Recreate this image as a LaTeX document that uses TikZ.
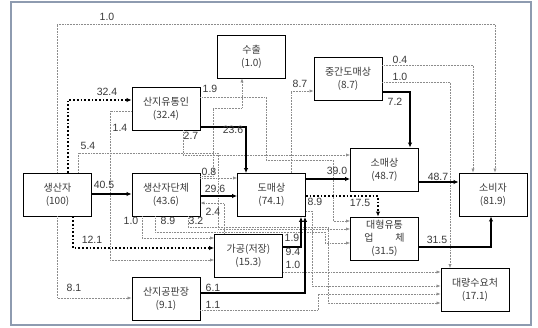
\documentclass[tikz,border=0pt]{standalone}
\usepackage{fontspec}
\setmainfont{Liberation Sans}
\newfontfamily\kfont{Noto Sans CJK KR}
\usetikzlibrary{arrows.meta,positioning,calc}
\definecolor{flowgray}{HTML}{8C8C8C}
\definecolor{textgray}{HTML}{3A3A3A}
\definecolor{framblue}{HTML}{8E9BB0}
\tikzset{
  stage/.style={draw=black, line width=0.9pt, fill=white, align=center, minimum width=68pt, minimum height=43pt, inner sep=0pt, font=\kfont\fontsize{10}{13}\selectfont, text=textgray},
  num/.style={font=\fontsize{10.5}{12}\selectfont, text=textgray, inner sep=1pt},
  minor/.style={draw=flowgray, line width=0.55pt, densely dotted, -{Latex[length=4pt,width=3.2pt]}},
  major/.style={draw=black, line width=1.7pt, -{Latex[length=5pt,width=4.5pt]}},
  majordot/.style={draw=black, line width=1.7pt, dotted, -{Latex[length=5pt,width=4.5pt]}}
}
\begin{document}
\begin{tikzpicture}[x=1pt, y=-1pt]
\useasboundingbox (0,0) rectangle (538,328);
\draw[framblue, line width=1.5pt, fill=white] (11,2) rectangle (531,325);

% stages
\node[stage] (prod) at (57.5,194.5) {생산자\\(100)};
\node[stage] (cwt)  at (166,108.5) {산지유통인\\(32.4)};
\node[stage] (pgrp) at (166,194.5) {생산자단체\\(43.6)};
\node[stage] (pub)  at (166,298.5) {산지공판장\\(9.1)};
\node[stage] (proc) at (248.5,255.5) {가공(저장)\\(15.3)};
\node[stage] (exp)  at (251.5,56.5) {수출\\(1.0)};
\node[stage] (whs)  at (271.5,195) {도매상\\(74.1)};
\node[stage] (mid)  at (348,78.5) {중간도매상\\(8.7)};
\node[stage] (ret)  at (384.5,169.5) {소매상\\(48.7)};
\node[stage] (big)  at (384.5,238.5) {대형유통\\업\hspace{2.2em}체\\(31.5)};
\node[stage] (cons) at (493,194.5) {소비자\\(81.9)};
\node[stage] (bulk) at (475,290) {대량수요처\\(17.1)};

% thin flows
\draw[minor] (prod.north -| 57,0) -- (57,24) -- (495,24) -- (cons.north -| 495,0);
\draw[minor] (prod.north -| 78,0) -- (78,153) -- (218,153) -- (218,229) -- (big.west |- 0,229);
\draw[minor] (prod.south -| 57,0) -- (57,298) -- (pub.west |- 0,298);
\draw[minor] (cwt.west |- 0,111) -- (110,111) -- (110,260) -- (proc.west |- 0,260);
\draw[minor] (cwt.east |- 0,97) -- (266,97) -- (266,160) -- (333,160) -- (333,221) -- (big.west |- 0,221);
\draw[minor] (cwt.south -| 183,0) -- (183,155) -- (ret.west |- 0,155);
\draw[minor] (pgrp.east |- 0,178) -- (whs.west |- 0,178);
\draw[minor] (pgrp.east |- 0,176) -- (213,176) -- (213,108) -- (242,108) -- (exp.south -| 242,0);
\draw[minor] (pgrp.south -| 142,0) -- (142,238) -- (proc.west |- 0,238);
\draw[minor] (pgrp.south -| 155,0) -- (155,232) -- (325,232) -- (325,243) -- (big.west |- 0,243);
\draw[minor] (pgrp.south -| 188,0) -- (188,227) -- (328,227) -- (328,303) -- (bulk.west |- 0,303);
\draw[minor] (proc.north -| 224,0) -- (224,203) -- (pgrp.east |- 0,203);
\draw[minor] (whs.east |- 0,211) -- (312,211) -- (312,286) -- (bulk.west |- 0,286);
\draw[minor] (proc.east |- 0,272) -- (bulk.west |- 0,272);
\draw[minor] (pub.east |- 0,310) -- (318,310) -- (318,294) -- (bulk.west |- 0,294);
\draw[minor] (whs.north -| 291,0) -- (291,91) -- (mid.west |- 0,91);
\draw[minor] (mid.east |- 0,65) -- (473,65) -- (cons.north -| 473,0);
\draw[minor] (mid.east |- 0,82) -- (450,82) -- (bulk.north -| 450,0);

% main flows
\draw[majordot] (prod.north -| 68,0) -- (68,100) -- (cwt.west |- 0,100);
\draw[majordot] (prod.south -| 73,0) -- (73,248) -- (proc.west |- 0,248);
\draw[majordot] (whs.east |- 0,196) -- (378,196) -- (big.north -| 378,0);
\draw[major] (prod.east |- 0,194) -- (pgrp.west |- 0,194);
\draw[major] (pgrp.east |- 0,196) -- (whs.west |- 0,196);
\draw[major] (cwt.east |- 0,127) -- (246,127) -- (whs.north -| 246,0);
\draw[major] (proc.east |- 0,247) -- (301,247) -- (whs.south -| 301,0);
\draw[major] (pub.east |- 0,293) -- (305,293) -- (whs.south -| 305,0);
\draw[major] (whs.east |- 0,179) -- (ret.west |- 0,179);
\draw[major] (mid.east |- 0,92) -- (410,92) -- (ret.north -| 410,0);
\draw[major] (ret.east |- 0,182) -- (cons.west |- 0,182);
\draw[major] (big.east |- 0,247) -- (491,247) -- (cons.south -| 491,0);

% labels
\node[num] (l01) at (107,17) {1.0};
\node[num] (l02) at (107,92) {32.4};
\node[num] (l03) at (88,146) {5.4};
\node[num] (l04) at (104,185) {40.5};
\node[num] (l05) at (92,240) {12.1};
\node[num] (l06) at (74,288) {8.1};
\node[num] (l07) at (210,89) {1.9};
\node[num] (l08) at (120,128) {1.4};
\node[num] (l09) at (191,136) {2.7};
\node[num] (l10) at (233,130) {23.6};
\node[num] (l11) at (209,172) {0.8};
\node[num] (l12) at (215,189) {29.6};
\node[num] (l13) at (213,212) {2.4};
\node[num] (l14) at (131,221) {1.0};
\node[num] (l15) at (168,221) {8.9};
\node[num] (l16) at (196,221) {3.2};
\node[num] (l17) at (213,288) {6.1};
\node[num] (l18) at (213,305) {1.1};
\node[num] (l19) at (292,238) {1.9};
\node[num] (l20) at (293,252) {9.4};
\node[num] (l21) at (293,265) {1.0};
\node[num] (l22) at (315,202) {8.9};
\node[num] (l23) at (360,203) {17.5};
\node[num] (l24) at (337,171) {39.0};
\node[num] (l25) at (300,84) {8.7};
\node[num] (l26) at (400,60) {0.4};
\node[num] (l27) at (400,77) {1.0};
\node[num] (l28) at (395,102) {7.2};
\node[num] (l29) at (438,177) {48.7};
\node[num] (l30) at (437,240) {31.5};
\end{tikzpicture}
\end{document}
